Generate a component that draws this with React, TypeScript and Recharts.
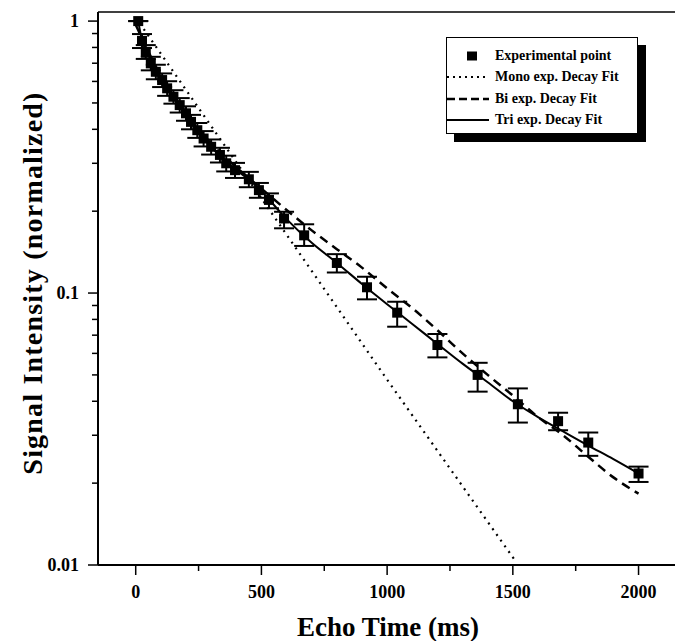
import React from 'react';
import { ComposedChart, Line, Scatter, ErrorBar, XAxis, YAxis, ReferenceLine } from 'recharts';

// experimental points (ms, normalized signal) and asymmetric error bars
const ECHO_TIMES = [10, 25, 40, 60, 80, 105, 125, 150, 175, 200, 220, 245, 270, 300, 335, 360, 395, 450, 490, 530, 590, 670, 800, 920, 1040, 1200, 1360, 1520, 1680, 1800, 2000];
const SIGNAL = [1.0, 0.846, 0.771, 0.699, 0.651, 0.607, 0.566, 0.527, 0.491, 0.458, 0.426, 0.397, 0.37, 0.345, 0.322, 0.3, 0.283, 0.262, 0.239, 0.22, 0.188, 0.163, 0.129, 0.105, 0.0847, 0.0644, 0.05, 0.039, 0.0338, 0.0282, 0.0217];
const ERR_DOWN = [0.0, 0.05, 0.045, 0.04, 0.04, 0.035, 0.035, 0.03, 0.03, 0.028, 0.026, 0.025, 0.024, 0.022, 0.02, 0.02, 0.018, 0.017, 0.015, 0.015, 0.015, 0.014, 0.01, 0.0102, 0.0095, 0.0064, 0.0066, 0.0056, 0.0025, 0.003, 0.0015];
const ERR_UP = [0.0, 0.05, 0.045, 0.04, 0.04, 0.035, 0.035, 0.03, 0.03, 0.028, 0.026, 0.025, 0.024, 0.022, 0.02, 0.02, 0.018, 0.017, 0.015, 0.0125, 0.011, 0.016, 0.01, 0.0098, 0.0082, 0.0063, 0.0054, 0.0056, 0.0025, 0.0025, 0.0013];

// fitted curves
const MONO_TIMES = [0, 500, 1000, 1515];
const MONO_FIT = [1.03, 0.223, 0.048, 0.0102];

const BI_TIMES = [0, 100, 200, 300, 400, 500, 600, 700, 800, 900, 1000, 1100, 1200, 1300, 1400, 1500, 1600, 1700, 1800, 1900, 2000];
const BI_FIT = [0.97, 0.63, 0.46, 0.355, 0.29, 0.242, 0.202, 0.17, 0.145, 0.124, 0.104, 0.088, 0.073, 0.06, 0.05, 0.042, 0.035, 0.03, 0.025, 0.021, 0.0183];

const TRI_TIMES = [10, 25, 50, 100, 150, 200, 250, 300, 350, 400, 450, 500, 600, 700, 800, 900, 1000, 1100, 1200, 1300, 1400, 1500, 1600, 1700, 1800, 1900, 2000];
const TRI_FIT = [1.0, 0.85, 0.75, 0.62, 0.527, 0.458, 0.392, 0.345, 0.31, 0.283, 0.262, 0.237, 0.187, 0.153, 0.129, 0.108, 0.091, 0.077, 0.065, 0.055, 0.047, 0.04, 0.035, 0.031, 0.0275, 0.0245, 0.0217];

const X_TICKS = [0, 250, 500, 750, 1000, 1250, 1500, 1750, 2000];
const X_LABELED = [0, 500, 1000, 1500, 2000];
const Y_TICKS = [0.01, 0.02, 0.03, 0.04, 0.05, 0.06, 0.07, 0.08, 0.09, 0.1, 0.2, 0.3, 0.4, 0.5, 0.6, 0.7, 0.8, 0.9, 1];
const Y_LABELED = [0.01, 0.1, 1];

const points = ECHO_TIMES.map((t, i) => ({ t, v: SIGNAL[i], err: [ERR_DOWN[i], ERR_UP[i]] }));
const mono = MONO_TIMES.map((t, i) => ({ t, v: MONO_FIT[i] }));
const bi = BI_TIMES.map((t, i) => ({ t, v: BI_FIT[i] }));
const tri = TRI_TIMES.map((t, i) => ({ t, v: TRI_FIT[i] }));

const FONT = '"Liberation Serif", "Times New Roman", serif';

const XTick = (props: any) => {
  const { x, y, payload } = props;
  const major = X_LABELED.includes(payload.value);
  return (
    <g>
      <line x1={x} x2={x} y1={y} y2={y + (major ? 10 : 6)} stroke="#000" strokeWidth={1.5} />
      {major && (
        <text x={x} y={y + 27} textAnchor="middle" dominantBaseline="central" fontSize={18} fontWeight="bold" fontFamily={FONT} fill="#000">
          {payload.value}
        </text>
      )}
    </g>
  );
};

const YTick = (props: any) => {
  const { x, y, payload } = props;
  const major = Y_LABELED.includes(payload.value);
  return (
    <g>
      <line x1={x - (major ? 10 : 6)} x2={x} y1={y} y2={y} stroke="#000" strokeWidth={1.5} />
      {major && (
        <text x={x - 19} y={y} textAnchor="end" dominantBaseline="central" fontSize={18} fontWeight="bold" fontFamily={FONT} fill="#000">
          {String(payload.value)}
        </text>
      )}
    </g>
  );
};

const Square = (props: any) => {
  const { cx, cy } = props;
  return <rect x={cx - 5} y={cy - 5} width={10} height={10} fill="#000" />;
};

const legendRows = [
  { label: 'Experimental point', kind: 'square' },
  { label: 'Mono exp. Decay Fit', kind: 'dot' },
  { label: 'Bi exp. Decay Fit', kind: 'dash' },
  { label: 'Tri exp. Decay Fit', kind: 'solid' },
];

const Sample = ({ kind }: { kind: string }) => (
  <svg width={42} height={12} style={{ position: 'absolute', left: 0, top: -6 }}>
    {kind === 'square' && <rect x={20} y={1.5} width={10} height={9} fill="#000" />}
    {kind === 'dot' && <line x1={0} x2={42} y1={6} y2={6} stroke="#000" strokeWidth={2} strokeDasharray="2 4" />}
    {kind === 'dash' && <line x1={0} x2={42} y1={6} y2={6} stroke="#000" strokeWidth={2.5} strokeDasharray="8 4" />}
    {kind === 'solid' && <line x1={0} x2={42} y1={6} y2={6} stroke="#000" strokeWidth={2} />}
  </svg>
);

export default function App() {
  return (
    <div style={{ position: 'absolute', left: 0, top: 0, width: 675, height: 641, background: '#fff', fontFamily: FONT }}>
      <ComposedChart width={675} height={641} margin={{ top: 12, right: 0, left: 0, bottom: 0 }}>
        <XAxis
          dataKey="t"
          type="number"
          domain={[-150, 2145]}
          allowDataOverflow
          ticks={X_TICKS}
          interval={0}
          tick={<XTick />}
          tickLine={false}
          tickSize={0}
          tickMargin={0}
          height={76}
          axisLine={{ stroke: '#000', strokeWidth: 2 }}
        />
        <YAxis
          dataKey="v"
          type="number"
          scale="log"
          domain={[0.01, 1.08]}
          allowDataOverflow
          ticks={Y_TICKS}
          interval={0}
          tick={<YTick />}
          tickLine={false}
          tickSize={0}
          tickMargin={0}
          width={98}
          axisLine={{ stroke: '#000', strokeWidth: 2 }}
        />
        <ReferenceLine y={1.08} stroke="#000" strokeWidth={1.5} />
        <Line data={mono} dataKey="v" type="linear" stroke="#000" strokeWidth={2.2} strokeDasharray="2 5" dot={false} isAnimationActive={false} />
        <Line data={bi} dataKey="v" type="monotone" stroke="#000" strokeWidth={2.5} strokeDasharray="9 6" dot={false} isAnimationActive={false} />
        <Line data={tri} dataKey="v" type="monotone" stroke="#000" strokeWidth={2} dot={false} isAnimationActive={false} />
        <Scatter data={points} dataKey="v" shape={<Square />} isAnimationActive={false}>
          <ErrorBar dataKey="err" direction="y" width={10} stroke="#000" strokeWidth={2} />
        </Scatter>
      </ComposedChart>

      <div
        style={{
          position: 'absolute',
          left: 446,
          top: 37,
          width: 192,
          height: 97,
          border: '1.5px solid #000',
          background: '#fff',
          boxShadow: '8px 8px 0 #000',
          boxSizing: 'border-box',
        }}
      >
        {legendRows.map((r, i) => (
          <div key={r.label} style={{ position: 'absolute', left: 0, top: 18 + i * 21.3, width: '100%' }}>
            <Sample kind={r.kind} />
            <span
              style={{
                position: 'absolute',
                left: 48,
                top: -9,
                fontSize: 14,
                lineHeight: '18px',
                fontWeight: 'bold',
                whiteSpace: 'nowrap',
              }}
            >
              {r.label}
            </span>
          </div>
        ))}
      </div>

      <div
        style={{
          position: 'absolute',
          left: 188,
          top: 614,
          width: 400,
          textAlign: 'center',
          fontSize: 27,
          lineHeight: '27px',
          fontWeight: 'bold',
          whiteSpace: 'nowrap',
        }}
      >
        Echo Time (ms)
      </div>
      <div
        style={{
          position: 'absolute',
          left: 33 - 250,
          top: 283 - 14,
          width: 500,
          textAlign: 'center',
          fontSize: 28,
          lineHeight: '28px',
          letterSpacing: 1.2,
          fontWeight: 'bold',
          whiteSpace: 'nowrap',
          transform: 'rotate(-90deg)',
        }}
      >
        Signal Intensity (normalized)
      </div>
    </div>
  );
}
